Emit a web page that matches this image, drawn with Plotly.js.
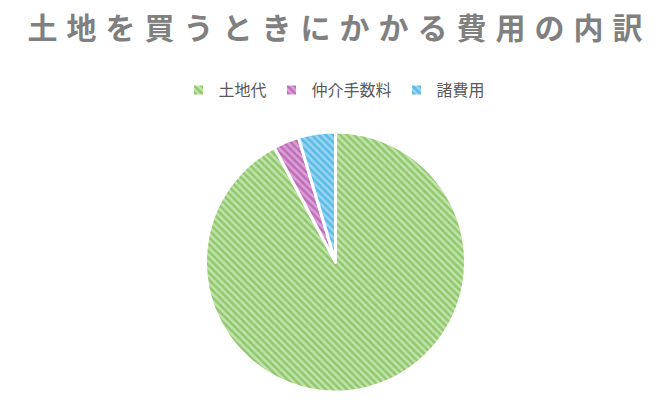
<!DOCTYPE html>
<html>
<head>
<meta charset="utf-8">
<script src="https://cdn.plot.ly/plotly-3.0.1.min.js"></script>
<style>
html,body{margin:0;padding:0;background:#fff;}
#chart{width:669px;height:405px;}
.gtitle{letter-spacing:9px;}
</style>
</head>
<body>
<div id="chart"></div>
<script>
const chartTitle = "土地を買うときにかかる費用の内訳";
const categories = ["土地代", "仲介手数料", "諸費用"];
const values = [92.2, 3.2, 4.6];
const lightColors = ["#c2e3ab", "#dba0d5", "#98d6f2"];
const darkColors = ["#5fab30", "#a33a9b", "#1a9fda"];

const trace = {
  type: "pie",
  labels: categories,
  values: values,
  sort: false,
  direction: "clockwise",
  rotation: 0,
  textinfo: "none",
  hoverinfo: "label+percent",
  domain: {x: [2/669, 1], y: [13/405, 273/405]},
  marker: {
    colors: lightColors,
    line: {color: "#ffffff", width: 3},
    pattern: {
      shape: "\\",
      fillmode: "overlay",
      fgcolor: darkColors,
      size: 5,
      solidity: 0.5
    }
  }
};

const layout = {
  width: 669,
  height: 405,
  margin: {l: 0, r: 0, t: 0, b: 0},
  paper_bgcolor: "#ffffff",
  showlegend: true,
  title: {
    text: "<b>" + chartTitle + "</b>",
    font: {family: "Noto Sans CJK JP", size: 30, color: "#808080"},
    x: 0.5 + 5/669, xanchor: "center",
    y: 1 - 28/405, yref: "container", yanchor: "middle"
  },
  legend: {
    orientation: "h",
    x: 0.5, xanchor: "center",
    y: 1 - 90/405, yanchor: "middle",
    font: {family: "Noto Sans CJK JP", size: 16, color: "#595959"},
    itemwidth: 30
  }
};

Plotly.newPlot("chart", [trace], layout, {displayModeBar: false, staticPlot: true});
</script>
</body>
</html>
